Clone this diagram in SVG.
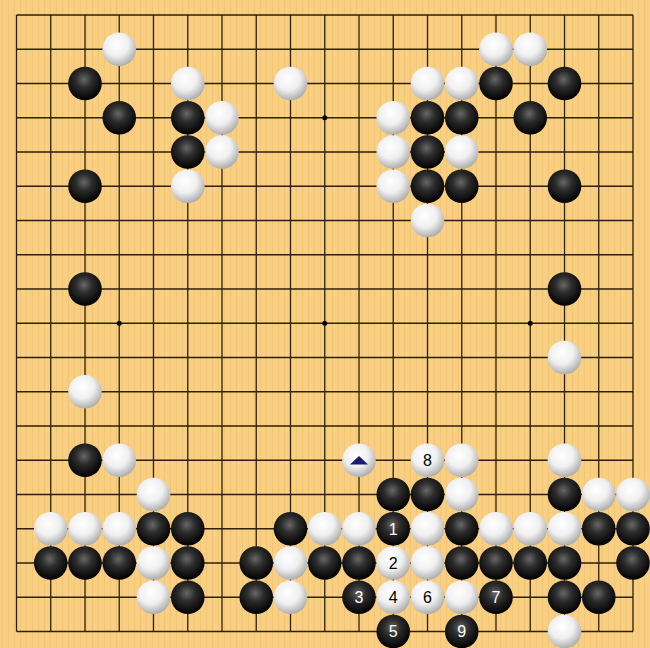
<svg xmlns="http://www.w3.org/2000/svg" width="650" height="648" viewBox="0 0 650 648">
<style>
.grid{stroke:#2e2008;stroke-width:1.3;fill:none}
.b{fill:url(#gb)}
.w{fill:url(#gw)}
.lb{font-family:"Liberation Sans",Arial,sans-serif;font-size:16px;text-anchor:middle;fill:#fff}
.lw{font-family:"Liberation Sans",Arial,sans-serif;font-size:16px;text-anchor:middle;fill:#000}
</style>
<defs>
<pattern id="wood" width="6" height="648" patternUnits="userSpaceOnUse">
<rect width="6" height="648" fill="#F8CE80"/>
<rect x="2" width="1" height="648" fill="#F2C676"/>
<rect x="4.5" width="0.8" height="648" fill="#FBD588"/>
</pattern>
<radialGradient id="gb" cx="0.47" cy="0.38" r="0.62">
<stop offset="0" stop-color="#676767"/>
<stop offset="0.4" stop-color="#2c2c2c"/>
<stop offset="1" stop-color="#000"/>
</radialGradient>
<radialGradient id="gw" cx="0.42" cy="0.35" r="0.7">
<stop offset="0" stop-color="#ffffff"/>
<stop offset="0.5" stop-color="#f0f0f0"/>
<stop offset="1" stop-color="#a4a4a4"/>
</radialGradient>
<circle id="B" r="16.8" class="b"/>
<circle id="W" r="16.8" class="w"/>
</defs>
<rect width="650" height="648" fill="url(#wood)"/>
<g transform="translate(16.5,15)">
<path class="grid" d="M0,0H616.5M0,34.25H616.5M0,68.5H616.5M0,102.75H616.5M0,137H616.5M0,171.25H616.5M0,205.5H616.5M0,239.75H616.5M0,274H616.5M0,308.25H616.5M0,342.5H616.5M0,376.75H616.5M0,411H616.5M0,445.25H616.5M0,479.5H616.5M0,513.75H616.5M0,548H616.5M0,582.25H616.5M0,616.5H616.5M0,0V616.5M34.25,0V616.5M68.5,0V616.5M102.75,0V616.5M137,0V616.5M171.25,0V616.5M205.5,0V616.5M239.75,0V616.5M274,0V616.5M308.25,0V616.5M342.5,0V616.5M376.75,0V616.5M411,0V616.5M445.25,0V616.5M479.5,0V616.5M513.75,0V616.5M548,0V616.5M582.25,0V616.5M616.5,0V616.5"/>
<g id="hoshi" fill="#000">
<circle cx="102.75" cy="102.75" r="2.5"/><circle cx="308.25" cy="102.75" r="2.5"/><circle cx="513.75" cy="102.75" r="2.5"/>
<circle cx="102.75" cy="308.25" r="2.5"/><circle cx="308.25" cy="308.25" r="2.5"/><circle cx="513.75" cy="308.25" r="2.5"/>
<circle cx="102.75" cy="513.75" r="2.5"/><circle cx="308.25" cy="513.75" r="2.5"/><circle cx="513.75" cy="513.75" r="2.5"/>
</g>
<g id="stones">
<use href="#W" x="102.75" y="34.25"/><use href="#W" x="479.5" y="34.25"/><use href="#W" x="513.75" y="34.25"/>
<use href="#B" x="68.5" y="68.5"/><use href="#W" x="171.25" y="68.5"/><use href="#W" x="274" y="68.5"/><use href="#W" x="411" y="68.5"/><use href="#W" x="445.25" y="68.5"/><use href="#B" x="479.5" y="68.5"/><use href="#B" x="548" y="68.5"/>
<use href="#B" x="102.75" y="102.75"/><use href="#B" x="171.25" y="102.75"/><use href="#W" x="205.5" y="102.75"/><use href="#W" x="376.75" y="102.75"/><use href="#B" x="411" y="102.75"/><use href="#B" x="445.25" y="102.75"/><use href="#B" x="513.75" y="102.75"/>
<use href="#B" x="171.25" y="137"/><use href="#W" x="205.5" y="137"/><use href="#W" x="376.75" y="137"/><use href="#B" x="411" y="137"/><use href="#W" x="445.25" y="137"/>
<use href="#B" x="68.5" y="171.25"/><use href="#W" x="171.25" y="171.25"/><use href="#W" x="376.75" y="171.25"/><use href="#B" x="411" y="171.25"/><use href="#B" x="445.25" y="171.25"/><use href="#B" x="548" y="171.25"/>
<use href="#W" x="411" y="205.5"/>
<use href="#B" x="68.5" y="274"/><use href="#B" x="548" y="274"/>
<use href="#W" x="548" y="342.5"/><use href="#W" x="68.5" y="376.75"/>
<use href="#B" x="68.5" y="445.25"/><use href="#W" x="102.75" y="445.25"/><use href="#W" x="342.5" y="445.25"/><use href="#W" x="411" y="445.25"/><use href="#W" x="445.25" y="445.25"/><use href="#W" x="548" y="445.25"/>
<use href="#W" x="137" y="479.5"/><use href="#B" x="376.75" y="479.5"/><use href="#B" x="411" y="479.5"/><use href="#W" x="445.25" y="479.5"/><use href="#B" x="548" y="479.5"/><use href="#W" x="582.25" y="479.5"/><use href="#W" x="616.5" y="479.5"/>
<use href="#W" x="34.25" y="513.75"/><use href="#W" x="68.5" y="513.75"/><use href="#W" x="102.75" y="513.75"/><use href="#B" x="137" y="513.75"/><use href="#B" x="171.25" y="513.75"/><use href="#B" x="274" y="513.75"/><use href="#W" x="308.25" y="513.75"/><use href="#W" x="342.5" y="513.75"/><use href="#B" x="376.75" y="513.75"/><use href="#W" x="411" y="513.75"/><use href="#B" x="445.25" y="513.75"/><use href="#W" x="479.5" y="513.75"/><use href="#W" x="513.75" y="513.75"/><use href="#W" x="548" y="513.75"/><use href="#B" x="582.25" y="513.75"/><use href="#B" x="616.5" y="513.75"/>
<use href="#B" x="34.25" y="548"/><use href="#B" x="68.5" y="548"/><use href="#B" x="102.75" y="548"/><use href="#W" x="137" y="548"/><use href="#B" x="171.25" y="548"/><use href="#B" x="239.75" y="548"/><use href="#W" x="274" y="548"/><use href="#B" x="308.25" y="548"/><use href="#B" x="342.5" y="548"/><use href="#W" x="376.75" y="548"/><use href="#W" x="411" y="548"/><use href="#B" x="445.25" y="548"/><use href="#B" x="479.5" y="548"/><use href="#B" x="513.75" y="548"/><use href="#B" x="548" y="548"/><use href="#B" x="616.5" y="548"/>
<use href="#W" x="137" y="582.25"/><use href="#B" x="171.25" y="582.25"/><use href="#B" x="239.75" y="582.25"/><use href="#W" x="274" y="582.25"/><use href="#B" x="342.5" y="582.25"/><use href="#W" x="376.75" y="582.25"/><use href="#W" x="411" y="582.25"/><use href="#W" x="445.25" y="582.25"/><use href="#B" x="479.5" y="582.25"/><use href="#B" x="548" y="582.25"/><use href="#B" x="582.25" y="582.25"/>
<use href="#B" x="376.75" y="616.5"/><use href="#B" x="445.25" y="616.5"/><use href="#W" x="548" y="616.5"/>
</g>
<g id="marks">
<polygon points="333.5,449.5 351.5,449.5 342.5,441" fill="#1a1a78"/>
<text class="lb" x="376.75" y="519.5">1</text>
<text class="lw" x="376.75" y="553.8">2</text>
<text class="lb" x="342.5" y="588">3</text>
<text class="lw" x="376.75" y="588">4</text>
<text class="lb" x="376.75" y="622.3">5</text>
<text class="lw" x="411" y="588">6</text>
<text class="lb" x="479.5" y="588">7</text>
<text class="lw" x="411" y="451">8</text>
<text class="lb" x="445.25" y="622.3">9</text>
</g>
</g>
</svg>
